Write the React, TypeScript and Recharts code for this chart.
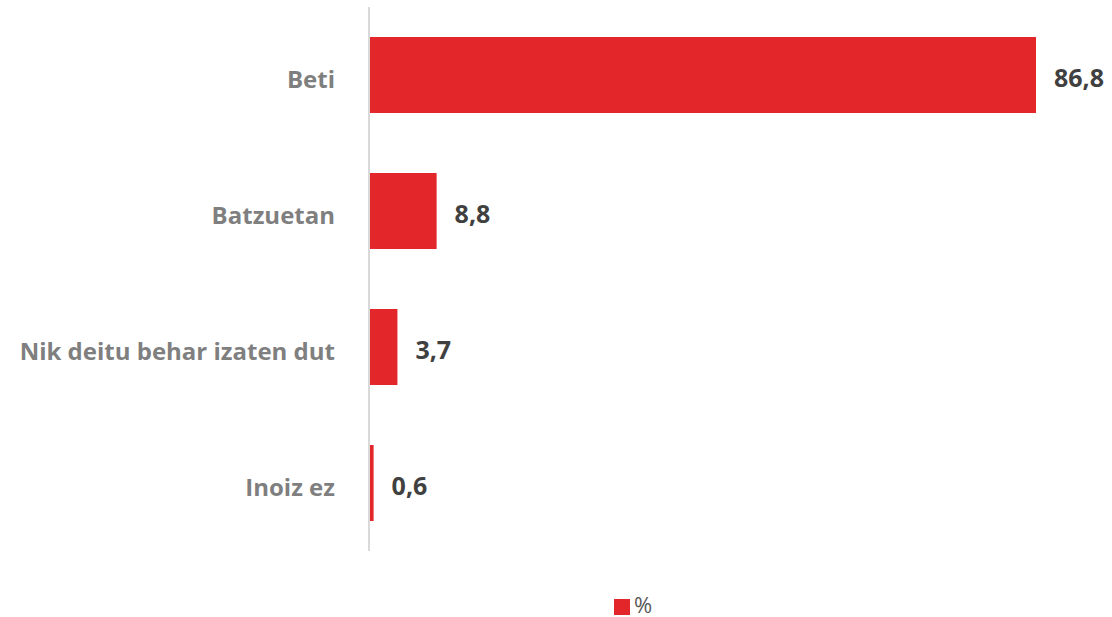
import { Bar, BarChart, LabelList, Legend, XAxis, YAxis } from "recharts";

const categories = ["Beti", "Batzuetan", "Nik deitu behar izaten dut", "Inoiz ez"];
const values = [86.8, 8.8, 3.7, 0.6];

const data = categories.map((name, i) => ({ name, value: values[i] }));

const RED = "#E3262A";
const FONT = "'Open Sans', 'Noto Sans', sans-serif";

const fmt = (v: unknown) => Number(v).toFixed(1).replace(".", ",");

export default function App() {
  return (
    <div style={{ position: "absolute", left: 0, top: 0, background: "#fff" }}>
      <BarChart
        width={1112}
        height={617}
        data={data}
        layout="vertical"
        margin={{ top: 7, right: 76, left: 0, bottom: 38 }}
        barSize={76}
      >
        <XAxis type="number" domain={[0, 86.8]} hide />
        <YAxis
          type="category"
          dataKey="name"
          width={369}
          tickLine={false}
          tickSize={0}
          tickMargin={34}
          axisLine={{ stroke: "#D9D9D9", strokeWidth: 2 }}
          tick={{ fontSize: 24, fontWeight: 700, fill: "#7F7F7F", fontFamily: FONT, dy: 4 }}
        />
        <Legend
          verticalAlign="bottom"
          iconType="square"
          iconSize={16}
          height={28}
          wrapperStyle={{ top: 592, left: 120, width: 1036, fontFamily: FONT, fontSize: 22, lineHeight: "24px" }}
          formatter={(v) => <span style={{ color: "#595959", fontSize: 22 }}>{v}</span>}
        />
        <Bar dataKey="value" name="%" fill={RED} isAnimationActive={false}>
          <LabelList
            dataKey="value"
            position="right"
            offset={18}
            formatter={fmt}
            style={{ fontSize: 25, fontWeight: 700, fill: "#404040", fontFamily: FONT, transform: "translateY(3px)" }}
          />
        </Bar>
      </BarChart>
    </div>
  );
}
